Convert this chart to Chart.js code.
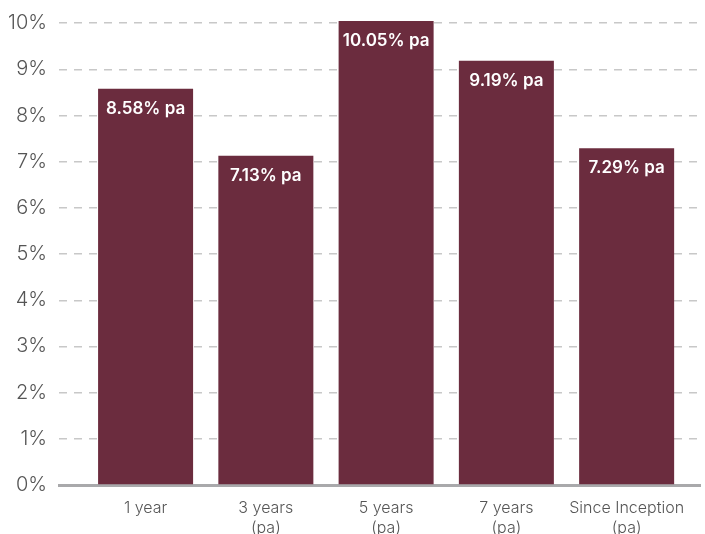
<!DOCTYPE html>
<html>
<head>
<meta charset="utf-8">
<script src="https://cdn.jsdelivr.net/npm/chart.js@4.4.1/dist/chart.umd.min.js"></script>
<style>
  body { margin: 0; background: #fff; }
  #wrap { width: 705px; height: 534px; }
</style>
</head>
<body>
<div id="wrap"><canvas id="returnsChart"></canvas></div>
<script>
const periods = [['1 year'], ['3 years', '(pa)'], ['5 years', '(pa)'], ['7 years', '(pa)'], ['Since Inception', '(pa)']];
const returns = [8.58, 7.13, 10.05, 9.19, 7.29];
const yTicks = [0, 1, 2, 3, 4, 5, 6, 7, 8, 9, 10];

const barColor = '#6b2c3e';
const fontFamily = 'Inter, "Open Sans", sans-serif';

// white value labels inside the top of each bar
const barLabels = {
  id: 'barLabels',
  afterDatasetsDraw(chart) {
    const ctx = chart.ctx;
    const meta = chart.getDatasetMeta(0);
    ctx.save();
    ctx.fillStyle = '#ffffff';
    ctx.font = '600 17px ' + fontFamily;
    ctx.textAlign = 'center';
    ctx.textBaseline = 'middle';
    meta.data.forEach((bar, i) => {
      ctx.fillText(returns[i].toFixed(2) + '% pa', bar.x, bar.y + 20);
    });
    ctx.restore();
  }
};

const ctx = document.getElementById('returnsChart');
const returnsChart = new Chart(ctx, {
  type: 'bar',
  data: {
    datasets: [{
      data: returns.map((v, i) => ({ x: i, y: v })),
      backgroundColor: barColor,
      borderWidth: 0,
      categoryPercentage: 0.79,
      barPercentage: 1
    }]
  },
  options: {
    responsive: true,
    maintainAspectRatio: false,
    animation: false,
    layout: { padding: { top: 14, right: 5, left: 0, bottom: 0 } },
    plugins: {
      legend: { display: false },
      tooltip: { enabled: false }
    },
    scales: {
      x: {
        type: 'linear',
        offset: false,
        min: -0.72,
        max: 4.61,
        afterBuildTicks(scale) {
          scale.ticks = periods.map((p, i) => ({ value: i }));
        },
        afterFit(scale) {
          scale.height = 49;
          scale.paddingLeft = 0;
          scale.paddingRight = 0;
        },
        grid: { display: false },
        border: { display: true, color: '#a9a9ab', width: 3 },
        ticks: {
          autoSkip: false,
          maxRotation: 0,
          padding: 5,
          color: '#555555',
          font: { family: fontFamily, size: 16, weight: 300, lineHeight: 1.25 },
          callback: (v) => periods[v]
        }
      },
      y: {
        min: 0,
        max: 10.2,
        afterBuildTicks(scale) {
          scale.ticks = yTicks.map(v => ({ value: v }));
        },
        afterFit(scale) {
          scale.width = 59;
          scale.paddingTop = 0;
          scale.paddingBottom = 0;
        },
        grid: {
          color: '#c8c8c8',
          lineWidth: 1.5,
          drawTicks: false
        },
        border: { display: false, dash: [8, 7] },
        ticks: {
          padding: 12,
          color: '#555555',
          font: { family: fontFamily, size: 20, weight: 300 },
          callback: (v) => v + '%'
        }
      }
    }
  },
  plugins: [barLabels]
});
</script>
</body>
</html>
